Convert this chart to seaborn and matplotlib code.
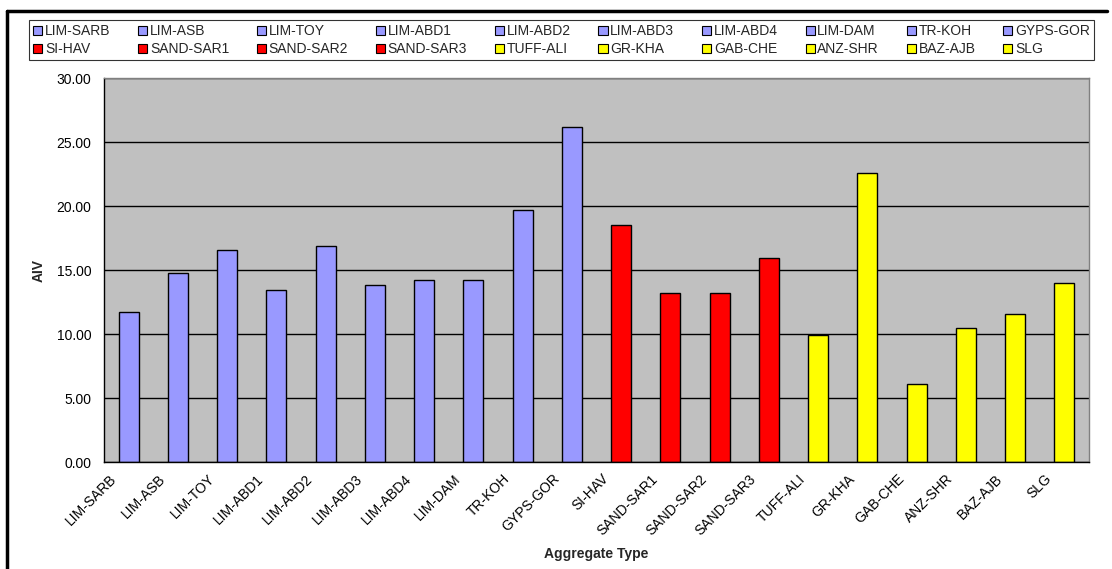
import matplotlib
matplotlib.use("Agg")
import matplotlib.pyplot as plt
from matplotlib.lines import Line2D
from matplotlib.patches import Rectangle
import pandas as pd
import seaborn as sns

# values
aggregates = [
    "LIM-SARB", "LIM-ASB", "LIM-TOY", "LIM-ABD1", "LIM-ABD2",
    "LIM-ABD3", "LIM-ABD4", "LIM-DAM", "TR-KOH", "GYPS-GOR",
    "SI-HAV", "SAND-SAR1", "SAND-SAR2", "SAND-SAR3", "TUFF-ALI",
    "GR-KHA", "GAB-CHE", "ANZ-SHR", "BAZ-AJB", "SLG",
]
aiv = [
    11.70, 14.80, 16.60, 13.45, 16.90,
    13.80, 14.25, 14.25, 19.70, 26.20,
    18.50, 13.20, 13.20, 15.90, 9.95,
    22.55, 6.10, 10.45, 11.55, 14.00,
]
groups = ["lim"] * 10 + ["sand"] * 4 + ["volc"] * 6
group_colors = {"lim": "#9999FF", "sand": "#FF0000", "volc": "#FFFF00"}

df = pd.DataFrame({"Aggregate Type": aggregates, "AIV": aiv, "group": groups})
palette = {a: group_colors[g] for a, g in zip(aggregates, groups)}

sns.set_style("white")
plt.rcParams["font.family"] = ["Liberation Sans", "DejaVu Sans"]
plt.rcParams["font.size"] = 10

fig = plt.figure(figsize=(11.12, 5.69), dpi=100)
ax = fig.add_axes([104 / 1112, 107 / 569, 985 / 1112, 384 / 569])

sns.barplot(
    data=df,
    x="Aggregate Type",
    y="AIV",
    hue="Aggregate Type",
    palette=palette,
    saturation=1,
    width=0.41,
    edgecolor="black",
    linewidth=1,
    legend=False,
    ax=ax,
)

ax.set_facecolor("#C0C0C0")
ax.set_xlim(-0.5, len(aggregates) - 0.5)
ax.set_ylim(0, 30)
ax.set_yticks(range(0, 31, 5))
ax.set_yticklabels([f"{v:.2f}" for v in range(0, 31, 5)])
ax.yaxis.grid(True, color="black", linewidth=1)
ax.set_axisbelow(True)

# category ticks sit between the bars; the slanted labels end a little
# left of each bar centre, as Excel draws them
ax.set_xticks([i - 0.4 for i in range(len(aggregates))])
ax.set_xticklabels(aggregates, rotation=45, ha="right", rotation_mode="anchor")
ax.set_xticks([i - 0.5 for i in range(len(aggregates) + 1)], minor=True)
ax.tick_params(axis="x", which="major", length=0, pad=7)
ax.tick_params(axis="x", which="minor", length=4, width=1, color="black", direction="out")
ax.tick_params(axis="y", length=4, width=1, color="black", direction="out", pad=5)
ax.tick_params(axis="both", labelsize=10, labelcolor="black")

for side in ["top", "right"]:
    ax.spines[side].set_color("#808080")
    ax.spines[side].set_linewidth(1)
for side in ["left", "bottom"]:
    ax.spines[side].set_color("black")
    ax.spines[side].set_linewidth(1)

ax.set_xlabel("Aggregate Type", fontweight="bold", fontsize=10)
ax.xaxis.set_label_coords(0.5, -(547 - 462) / 384)
ax.set_ylabel("AIV", fontweight="bold", fontsize=10)
ax.yaxis.set_label_coords(-(104 - 46) / 985, 0.5)

# legend: two rows of ten, filled row by row
handles = [
    Rectangle((0, 0), 1, 1, facecolor=palette[a], edgecolor="black", linewidth=0.8)
    for a in aggregates
]
order = [i for pair in zip(range(10), range(10, 20)) for i in pair]
leg = fig.legend(
    [handles[i] for i in order],
    [aggregates[i] for i in order],
    loc="upper left",
    bbox_to_anchor=(29 / 1112, 512 / 569, 1065 / 1112, 37 / 569),
    mode="expand",
    ncol=10,
    fontsize=10,
    frameon=True,
    fancybox=False,
    handlelength=0.65,
    handleheight=0.65,
    handletextpad=0.2,
    columnspacing=0.5,
    labelspacing=0.3,
    borderpad=0.3,
    borderaxespad=0,
)
leg.get_frame().set_edgecolor("black")
leg.get_frame().set_linewidth(0.8)

# chart border (top and left edges are all that show)
fig.add_artist(Line2D([6.5 / 1112, 1107 / 1112], [558 / 569, 558 / 569],
                      transform=fig.transFigure, color="black", linewidth=2.5))
fig.add_artist(Line2D([6.5 / 1112, 6.5 / 1112], [558 / 569, 0],
                      transform=fig.transFigure, color="black", linewidth=2.5))

fig.savefig("out.png", dpi=100, facecolor="white")
